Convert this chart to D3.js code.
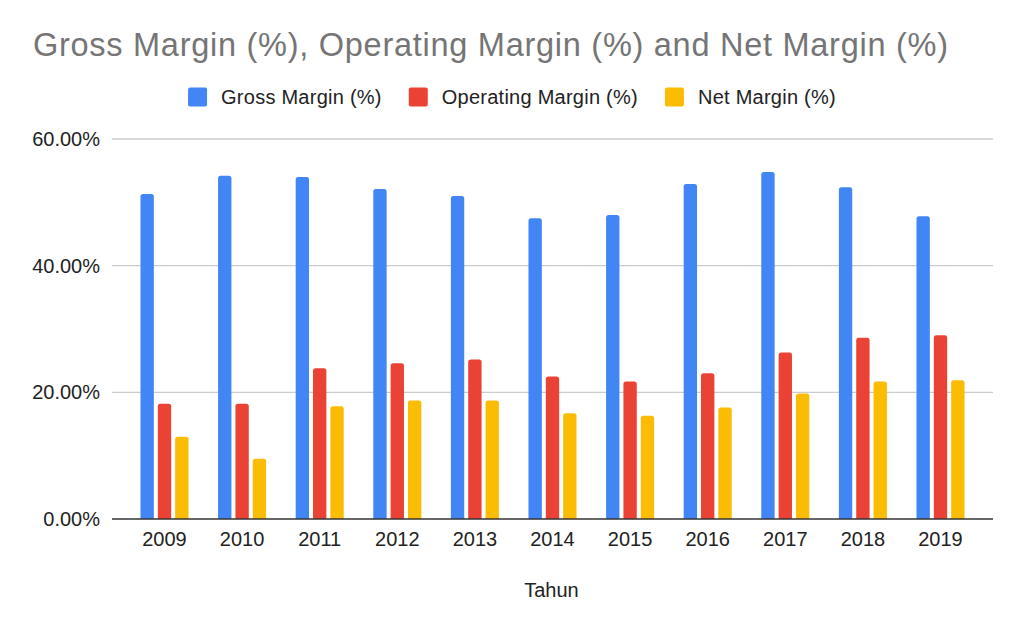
<!DOCTYPE html>
<html>
<head>
<meta charset="utf-8">
<script src="https://cdn.jsdelivr.net/npm/d3@7"></script>
<style>
  html, body { margin: 0; padding: 0; background: #fff; }
  svg { display: block; font-family: "Liberation Sans", Arial, sans-serif; }
</style>
</head>
<body>
<svg id="chart" width="1024" height="633"></svg>
<script>
const years = ["2009","2010","2011","2012","2013","2014","2015","2016","2017","2018","2019"];
const seriesNames = ["Gross Margin (%)", "Operating Margin (%)", "Net Margin (%)"];
const grossMargin = [51.3, 54.2, 54.0, 52.1, 51.0, 47.5, 48.0, 52.9, 54.8, 52.4, 47.8];
const operatingMargin = [18.2, 18.2, 23.8, 24.6, 25.2, 22.5, 21.7, 23.0, 26.3, 28.6, 29.0];
const netMargin = [13.0, 9.5, 17.8, 18.7, 18.7, 16.7, 16.3, 17.6, 19.8, 21.7, 21.9];
const yTicks = [0, 20, 40, 60];
const colors = ["#4285F4", "#EA4335", "#FBBC04"];
const titleText = "Gross Margin (%), Operating Margin (%) and Net Margin (%)";
const xAxisTitle = "Tahun";

const seriesValues = [grossMargin, operatingMargin, netMargin];
const svg = d3.select("#chart");
const W = 1024;

const plot = { left: 112, right: 993, top: 139, bottom: 519 };

const x0 = d3.scaleBand().domain(years).range([plot.left, plot.right])
  .paddingInner(0.381).paddingOuter(0.367);
const x1 = d3.scaleBand().domain(d3.range(3)).range([0, x0.bandwidth()])
  .paddingInner(0.23).paddingOuter(0);
const y = d3.scaleLinear().domain([0, 60]).range([plot.bottom, plot.top]);

// Title
svg.append("text")
  .attr("x", 33).attr("y", 56)
  .attr("font-size", 32.5)
  .attr("fill", "#757575")
  .attr("textLength", 915)
  .attr("lengthAdjust", "spacing")
  .text(titleText);

// Gridlines
svg.append("g").selectAll("line")
  .data(yTicks.filter(d => d !== 0))
  .join("line")
  .attr("x1", plot.left).attr("x2", plot.right)
  .attr("y1", d => y(d)).attr("y2", d => y(d))
  .attr("stroke", "#cccccc").attr("stroke-width", 1.3);

// Y labels
svg.append("g").selectAll("text")
  .data(yTicks)
  .join("text")
  .attr("x", 100).attr("y", d => y(d))
  .attr("dy", "0.35em")
  .attr("text-anchor", "end")
  .attr("font-size", 20)
  .attr("fill", "#222")
  .text(d => d3.format(".2f")(d) + "%");

// Bars with rounded top corners
function barPath(xp, w, yTop, yBase, r) {
  const h = yBase - yTop;
  r = Math.min(r, w / 2, h);
  return `M${xp},${yBase}V${yTop + r}Q${xp},${yTop} ${xp + r},${yTop}H${xp + w - r}Q${xp + w},${yTop} ${xp + w},${yTop + r}V${yBase}Z`;
}

const groups = svg.append("g").selectAll("g")
  .data(years)
  .join("g")
  .attr("transform", d => `translate(${x0(d)},0)`);

groups.selectAll("path")
  .data((d, i) => seriesValues.map((vals, s) => ({ s, v: vals[i] })))
  .join("path")
  .attr("fill", d => colors[d.s])
  .attr("d", d => barPath(x1(d.s), x1.bandwidth(), y(d.v), y(0), 2.5));

// Baseline
svg.append("line")
  .attr("x1", plot.left).attr("x2", plot.right)
  .attr("y1", y(0)).attr("y2", y(0))
  .attr("stroke", "#333").attr("stroke-width", 1.5);

// X labels
svg.append("g").selectAll("text")
  .data(years)
  .join("text")
  .attr("x", d => x0(d) + x0.bandwidth() / 2)
  .attr("y", 546)
  .attr("text-anchor", "middle")
  .attr("font-size", 20)
  .attr("fill", "#222")
  .text(d => d);

// X axis title
svg.append("text")
  .attr("x", (plot.left + plot.right) / 2 - 1)
  .attr("y", 597)
  .attr("text-anchor", "middle")
  .attr("font-size", 20)
  .attr("fill", "#222")
  .text(xAxisTitle);

// Legend
const legend = svg.append("g");
const sq = 19, gapText = 14, gapItem = 27;
const items = legend.selectAll("g").data(seriesNames).join("g");
items.append("rect")
  .attr("width", sq).attr("height", sq).attr("rx", 2)
  .attr("y", 87.5)
  .attr("fill", (d, i) => colors[i]);
items.append("text")
  .attr("x", sq + gapText).attr("y", 97)
  .attr("dy", "0.35em")
  .attr("font-size", 20)
  .attr("letter-spacing", 0.25)
  .attr("fill", "#222")
  .text(d => d);
let widths = [];
items.each(function() {
  widths.push(sq + gapText + d3.select(this).select("text").node().getComputedTextLength());
});
const total = d3.sum(widths) + gapItem * (widths.length - 1);
let cx = W / 2 - total / 2;
items.attr("transform", (d, i) => {
  const t = `translate(${cx},0)`;
  cx += widths[i] + gapItem;
  return t;
});
</script>
</body>
</html>
